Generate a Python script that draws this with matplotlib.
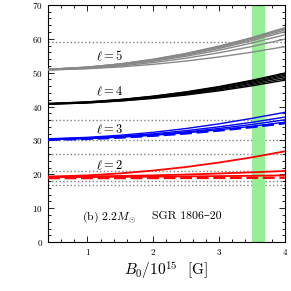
import matplotlib
matplotlib.use("Agg")
import matplotlib.pyplot as plt
from matplotlib.ticker import MultipleLocator

plt.rcParams["font.family"] = ["cmr10", "DejaVu Serif"]
plt.rcParams["mathtext.fontset"] = "cm"
plt.rcParams["axes.formatter.use_mathtext"] = True

# field strength B0 / 10^15 G
B0 = [0.4, 1.0, 1.5, 2.0, 2.5, 3.0, 3.5, 4.0]

# l = 5 (gray)
l5_curves = [
    [51.0, 51.65, 52.62, 53.98, 55.72, 57.86, 60.38, 63.3],
    [51.0, 51.64, 52.58, 53.90, 55.61, 57.70, 60.16, 63.0],
    [51.0, 51.61, 52.53, 53.81, 55.45, 57.47, 59.85, 62.6],
    [50.9, 51.49, 52.38, 53.61, 55.20, 57.15, 59.45, 62.1],
    [50.9, 51.45, 52.26, 53.39, 54.86, 56.65, 58.76, 61.2],
    [50.8, 51.28, 52.00, 53.00, 54.29, 55.88, 57.74, 59.9],
    [50.8, 51.17, 51.71, 52.47, 53.45, 54.65, 56.06, 57.7],
]
# l = 4 (black)
l4_curves = [
    [40.9, 41.38, 42.09, 43.08, 44.36, 45.92, 47.77, 49.9],
    [40.9, 41.36, 42.05, 43.01, 44.24, 45.75, 47.54, 49.6],
    [40.8, 41.25, 41.91, 42.83, 44.03, 45.49, 47.21, 49.2],
    [40.8, 41.22, 41.86, 42.74, 43.87, 45.26, 46.90, 48.8],
    [40.7, 41.10, 41.70, 42.54, 43.62, 44.94, 46.50, 48.3],
    [40.7, 41.08, 41.64, 42.42, 43.43, 44.66, 46.12, 47.8],
]
# l = 3 (blue)
l3_curves = [
    [30.5, 30.92, 31.54, 32.41, 33.53, 34.91, 36.53, 38.3],
    [30.4, 30.74, 31.26, 31.97, 32.90, 34.03, 35.36, 36.9],
    [30.3, 30.61, 31.07, 31.70, 32.53, 33.54, 34.73, 36.1],
    [30.3, 30.57, 30.97, 31.53, 32.26, 33.15, 34.19, 35.4],
]
l3_dashed = [30.2, 30.46, 30.85, 31.39, 32.08, 32.93, 33.94, 35.1]
# l = 2 (red)
l2_curves = [
    [19.3, 19.70, 20.29, 21.12, 22.18, 23.49, 25.02, 26.8],
    [19.3, 19.39, 19.52, 19.71, 19.95, 20.25, 20.60, 21.0],
    [19.2, 19.23, 19.27, 19.32, 19.39, 19.48, 19.58, 19.7],
]
l2_dashed = [18.9, 18.90, 18.91, 18.92, 18.94, 18.96, 18.98, 19.0]

# observed QPO frequencies (dotted)
qpo_freqs = [17, 18, 21, 26, 30, 36, 59]
band = (3.5, 3.7)

groups = [
    (l5_curves, None, "#888888", r"$\ell=5$", 54.8),
    (l4_curves, None, "black", r"$\ell=4$", 44.4),
    (l3_curves, l3_dashed, "blue", r"$\ell=3$", 33.2),
    (l2_curves, l2_dashed, "red", r"$\ell=2$", 22.7),
]

fig = plt.figure(figsize=(2.91, 2.91), dpi=100)
ax = fig.add_axes([0.165, 0.168, 0.814, 0.815])

for f in qpo_freqs:
    ax.axhline(f, color="#808080", ls=":", lw=1.0, zorder=1)
ax.axvspan(*band, color="#90ee90", alpha=0.95, lw=0, zorder=2)

for curves, dashed, color, label, ylab in groups:
    lw = 1.3 if color == "red" else 1.0
    for c in curves:
        ax.plot(B0, c, color=color, lw=lw, zorder=3)
    if dashed is not None:
        ax.plot(B0, dashed, color=color, lw=1.7, ls=(0, (5, 2)), zorder=4)
    ax.text(1.33, ylab, label, fontsize=9, ha="center", va="center", zorder=5)

ax.text(0.92, 7.4, r"(b) $2.2M_{\odot}$", fontsize=8.5, va="center")
ax.text(2.51, 7.6, "SGR 1806–20", fontsize=8.5, va="center", ha="center")

ax.set_xlim(0.4, 4)
ax.set_ylim(0, 70)
ax.set_xticks([1, 2, 3, 4])
ax.set_yticks(range(0, 80, 10))
ax.xaxis.set_minor_locator(MultipleLocator(0.2))
ax.yaxis.set_minor_locator(MultipleLocator(2))
ax.tick_params(which="both", direction="in", top=True, right=True, labelsize=6.5, width=0.6)
ax.tick_params(which="major", length=4)
ax.tick_params(which="minor", length=2)
for s in ax.spines.values():
    s.set_linewidth(0.8)
ax.set_xlabel(r"$B_0/10^{15}$  [G]", fontsize=11, labelpad=2)

fig.savefig("out.png", dpi=100)
